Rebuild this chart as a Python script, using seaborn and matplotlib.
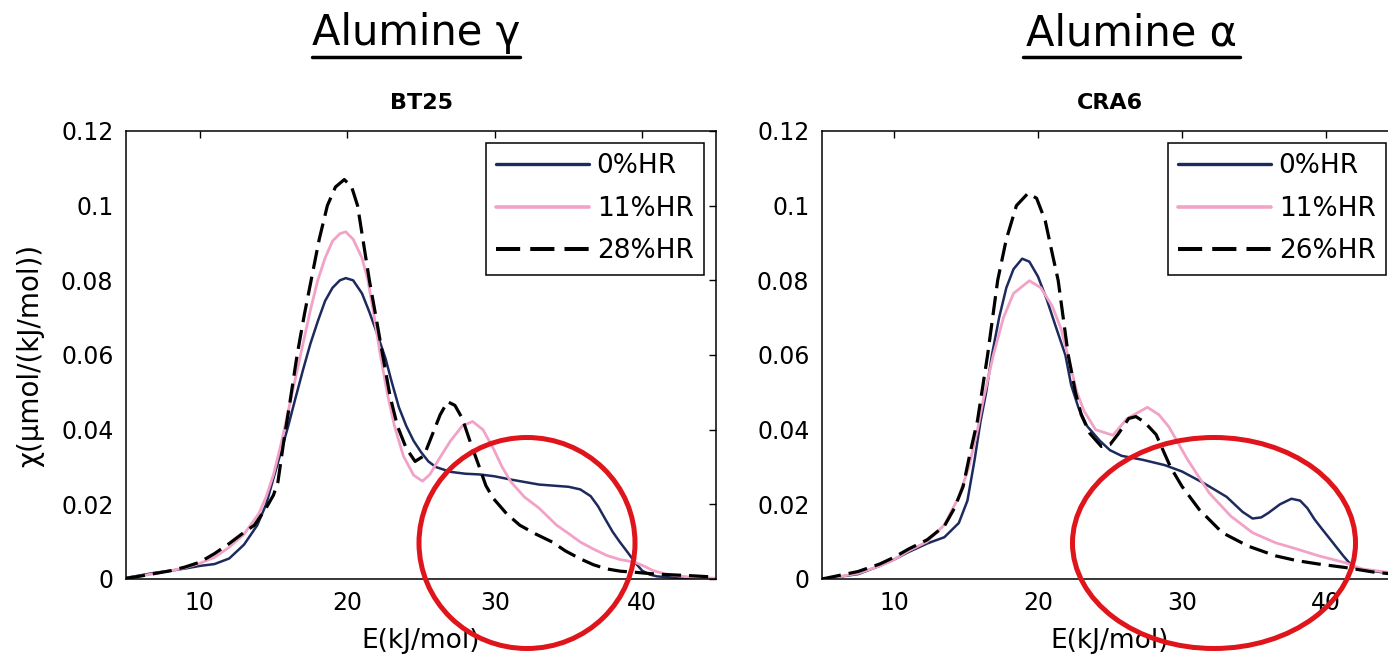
import matplotlib
matplotlib.use("Agg")
import matplotlib.pyplot as plt
import seaborn as sns
from matplotlib.lines import Line2D
from matplotlib.patches import Ellipse

# BT25 (alumine gamma)
e_bt_0 = [5, 6, 7, 8, 9, 10, 11, 12, 13, 13.9, 14.5, 15, 15.5, 16, 16.5, 17, 17.5, 18, 18.5, 19, 19.5, 19.9,
          20.4, 21, 21.5, 22, 22.6, 23, 23.5, 24, 24.5, 25, 25.5, 26, 27, 28, 29, 30, 31, 32, 33, 34, 35, 35.8,
          36.5, 37, 37.5, 38, 38.5, 39, 39.5, 40, 40.5, 41, 42, 43, 44, 45]
v_bt_0 = [0.0003, 0.001, 0.0017, 0.0022, 0.0028, 0.0035, 0.004, 0.0055, 0.0092, 0.0144, 0.020, 0.027, 0.034,
          0.041, 0.0486, 0.056, 0.063, 0.069, 0.0745, 0.078, 0.080, 0.0806, 0.080, 0.0765, 0.0715, 0.066, 0.059,
          0.053, 0.046, 0.041, 0.037, 0.034, 0.0315, 0.030, 0.0287, 0.0282, 0.028, 0.0275, 0.0267, 0.026,
          0.0253, 0.025, 0.0247, 0.024, 0.0222, 0.0195, 0.016, 0.0126, 0.0098, 0.0072, 0.0045, 0.0022, 0.0012,
          0.0007, 0.0004, 0.0002, 0.0001, 0.0]

e_bt_11 = [5, 6, 7, 8, 9, 10, 11, 12, 13, 14, 14.5, 15, 15.5, 16, 16.5, 17, 17.5, 18, 18.5, 19, 19.5, 19.9, 20.4,
           21, 21.4, 21.8, 22.2, 22.7, 23.2, 23.8, 24.5, 25.1, 25.6, 26.2, 27, 27.8, 28.5, 29.2, 29.9, 30.5, 31.1,
           32, 33, 34.2, 35, 35.8, 36.7, 37.6, 38.5, 39.5, 40.2, 40.7, 41.5, 42.3, 43.5, 45]
v_bt_11 = [0.0003, 0.0008, 0.0015, 0.0022, 0.003, 0.0042, 0.0058, 0.0085, 0.012, 0.0175, 0.022, 0.028, 0.036,
           0.045, 0.054, 0.063, 0.072, 0.080, 0.086, 0.0905, 0.0925, 0.093, 0.091, 0.086, 0.080, 0.071, 0.061,
           0.050, 0.041, 0.033, 0.0278, 0.0262, 0.028, 0.032, 0.037, 0.041, 0.0422, 0.040, 0.035, 0.030, 0.026,
           0.022, 0.019, 0.0144, 0.0122, 0.0099, 0.008, 0.0063, 0.0052, 0.0045, 0.0033, 0.0023, 0.0014, 0.0009,
           0.0004, 0.0002]

e_bt_28 = [5, 6, 7, 8, 9, 10, 11, 12, 13, 13.7, 14.5, 15, 15.3, 15.7, 16.1, 16.6, 17.1, 17.55, 18.1, 18.65, 19.2,
           19.8, 20.3, 20.7, 21.1, 21.5, 22, 22.4, 22.9, 23.4, 24, 24.6, 25.2, 25.8, 26.3, 26.8, 27.3, 27.8, 28.4,
           28.9, 29.4, 29.9, 30.8, 31.7, 32.8, 33.9, 34.8, 35.8, 36.7, 37.6, 38.5, 39.5, 41, 43.2, 45]
v_bt_28 = [0.0002, 0.0008, 0.0015, 0.0022, 0.0032, 0.0045, 0.0068, 0.0095, 0.0125, 0.0144, 0.019, 0.0225, 0.026,
           0.037, 0.047, 0.060, 0.071, 0.080, 0.091, 0.100, 0.105, 0.107, 0.105, 0.100, 0.090, 0.080, 0.069,
           0.060, 0.049, 0.041, 0.035, 0.0315, 0.033, 0.039, 0.044, 0.0475, 0.0465, 0.043, 0.036, 0.0306, 0.025,
           0.0216, 0.0175, 0.0144, 0.012, 0.0099, 0.0075, 0.0054, 0.0038, 0.0027, 0.0021, 0.0018, 0.0013, 0.0009,
           0.0005]

# CRA6 (alumine alpha)
e_cra_0 = [5, 6, 7.5, 9, 10, 11, 12.3, 13.5, 14.5, 15.1, 15.6, 16, 16.4, 16.8, 17.3, 17.8, 18.3, 18.9, 19.4, 20,
           20.6, 21.2, 21.9, 22.3, 22.8, 23.4, 24.3, 25, 25.8, 27.3, 28.8, 30, 31.5, 33.1, 34.2, 34.9, 35.5, 36,
           36.8, 37.6, 38.2, 38.7, 39.2, 39.7, 40.3, 41.2, 41.8, 42.5, 43.9, 45]
v_cra_0 = [0.0, 0.0005, 0.0013, 0.0035, 0.0052, 0.0072, 0.0095, 0.0112, 0.015, 0.021, 0.032, 0.042, 0.050, 0.060,
           0.070, 0.078, 0.083, 0.0858, 0.085, 0.081, 0.075, 0.068, 0.060, 0.052, 0.046, 0.041, 0.037, 0.0345,
           0.033, 0.0319, 0.0305, 0.0288, 0.0257, 0.022, 0.018, 0.0162, 0.0165, 0.0177, 0.020, 0.0215, 0.021,
           0.019, 0.016, 0.0135, 0.0106, 0.0062, 0.0035, 0.0025, 0.0018, 0.0012]

e_cra_11 = [5, 6, 7.5, 9, 10, 11, 12.3, 13.5, 14.5, 15.2, 15.8, 16.2, 16.9, 17.6, 18.3, 19.4, 20.2, 21, 21.6, 22.2,
            22.7, 23.2, 24, 25.2, 26.2, 27.6, 28.4, 29.1, 30.4, 31.9, 33.4, 34.9, 36.5, 38, 39.5, 41.3, 42.5,
            44.3, 45]
v_cra_11 = [0.0, 0.0005, 0.0015, 0.0035, 0.0052, 0.0075, 0.010, 0.0145, 0.022, 0.030, 0.040, 0.048, 0.060, 0.070,
            0.0765, 0.0799, 0.078, 0.073, 0.067, 0.058, 0.050, 0.045, 0.040, 0.0385, 0.043, 0.046, 0.044, 0.0407,
            0.0319, 0.023, 0.0168, 0.0124, 0.0097, 0.008, 0.0062, 0.0044, 0.0027, 0.0018, 0.0015]

e_cra_26 = [5, 6, 7.5, 9, 10, 11, 12.3, 13.5, 14.2, 14.8, 15.3, 15.8, 16.5, 17.2, 17.8, 18.5, 19.3, 19.9, 20.5, 21,
            21.4, 22.1, 22.6, 23, 23.6, 24.4, 25, 25.6, 26.3, 26.8, 27.4, 28.2, 29.2, 30, 31.2, 32.8, 34.6, 36.5,
            38, 39.5, 41.3, 43.4, 45]
v_cra_26 = [0.0, 0.0008, 0.002, 0.004, 0.0058, 0.008, 0.0105, 0.0142, 0.019, 0.0248, 0.034, 0.0425, 0.060, 0.080,
            0.091, 0.100, 0.1033, 0.102, 0.096, 0.087, 0.080, 0.060, 0.050, 0.044, 0.039, 0.0355, 0.036, 0.039,
            0.043, 0.0435, 0.042, 0.0387, 0.030, 0.0248, 0.0186, 0.0124, 0.0088, 0.0062, 0.0049, 0.004, 0.0031,
            0.0018, 0.0012]

x_ticks = [10, 20, 30, 40]
y_ticks = [0, 0.02, 0.04, 0.06, 0.08, 0.1, 0.12]
y_tick_labels = ["0", "0.02", "0.04", "0.06", "0.08", "0.1", "0.12"]

NAVY = "#1d2a5e"
PINK = "#f2a2c6"
W, H = 1388, 659

sns.set_style("white")
plt.rcParams["font.family"] = ["DejaVu Sans"]
plt.rcParams.update({"text.color": "black", "axes.labelcolor": "black",
                     "xtick.color": "black", "ytick.color": "black"})

fig = plt.figure(figsize=(W / 100, H / 100), dpi=100)
ax1 = fig.add_axes([126 / W, 80 / H, 590 / W, 448 / H])
ax2 = fig.add_axes([822 / W, 80 / H, 576 / W, 448 / H])


def panneau(ax, title, e0, v0, e1, v1, e2, v2, lab2):
    sns.lineplot(x=e0, y=v0, ax=ax, color=NAVY, lw=1.8, label="0%HR")
    sns.lineplot(x=e1, y=v1, ax=ax, color=PINK, lw=2.0, label="11%HR")
    sns.lineplot(x=e2, y=v2, ax=ax, color="black", lw=2.3, label=lab2)
    ax.lines[-1].set_dashes((6, 2.5))
    ax.set_xlim(5, 45)
    ax.set_ylim(0, 0.12)
    ax.set_xticks(x_ticks)
    ax.set_xticklabels([str(t) for t in x_ticks])
    ax.set_yticks(y_ticks)
    ax.set_yticklabels(y_tick_labels)
    ax.tick_params(direction="in", length=5, width=1, top=True, right=True,
                   labelsize=17, pad=9)
    for s in ax.spines.values():
        s.set_color("black")
        s.set_linewidth(1.1)
    ax.set_xlabel("E(kJ/mol)", fontsize=19, labelpad=9)
    ax.set_ylabel("")
    ax.set_title(title, fontsize=16, fontweight="bold", pad=16)
    leg = ax.legend(loc="upper right", fontsize=19, frameon=True, fancybox=False,
                    framealpha=1, edgecolor="black", handlelength=3.5,
                    handletextpad=0.3, labelspacing=0.62, borderpad=0.4,
                    borderaxespad=0.45)
    leg.get_frame().set_linewidth(1.1)
    for h in leg.get_lines():
        h.set_linewidth(h.get_linewidth() + 0.6)


panneau(ax1, "BT25", e_bt_0, v_bt_0, e_bt_11, v_bt_11, e_bt_28, v_bt_28, "28%HR")
panneau(ax2, "CRA6", e_cra_0, v_cra_0, e_cra_11, v_cra_11, e_cra_26, v_cra_26, "26%HR")
ax1.set_ylabel("χ(µmol/(kJ/mol))", fontsize=20, labelpad=12)

# titres soulignés
fig.text(416 / W, 1 - 33 / H, "Alumine γ", ha="center", va="center", fontsize=30)
fig.add_artist(Line2D([312 / W, 520 / W], [1 - 57 / H] * 2, color="black", lw=2.5))
fig.text(1131 / W, 1 - 33 / H, "Alumine α", ha="center", va="center", fontsize=30)
fig.add_artist(Line2D([1023 / W, 1240 / W], [1 - 57 / H] * 2, color="black", lw=2.5))

# ellipses rouges
fig.add_artist(Ellipse((527 / W, 1 - 543 / H), 216 / W, 211 / H, transform=fig.transFigure,
                       fill=False, edgecolor="#e0151b", lw=3.6))
fig.add_artist(Ellipse((1214 / W, 1 - 543 / H), 283 / W, 211 / H, transform=fig.transFigure,
                       fill=False, edgecolor="#e0151b", lw=3.6))

fig.savefig("out.png", dpi=100)
